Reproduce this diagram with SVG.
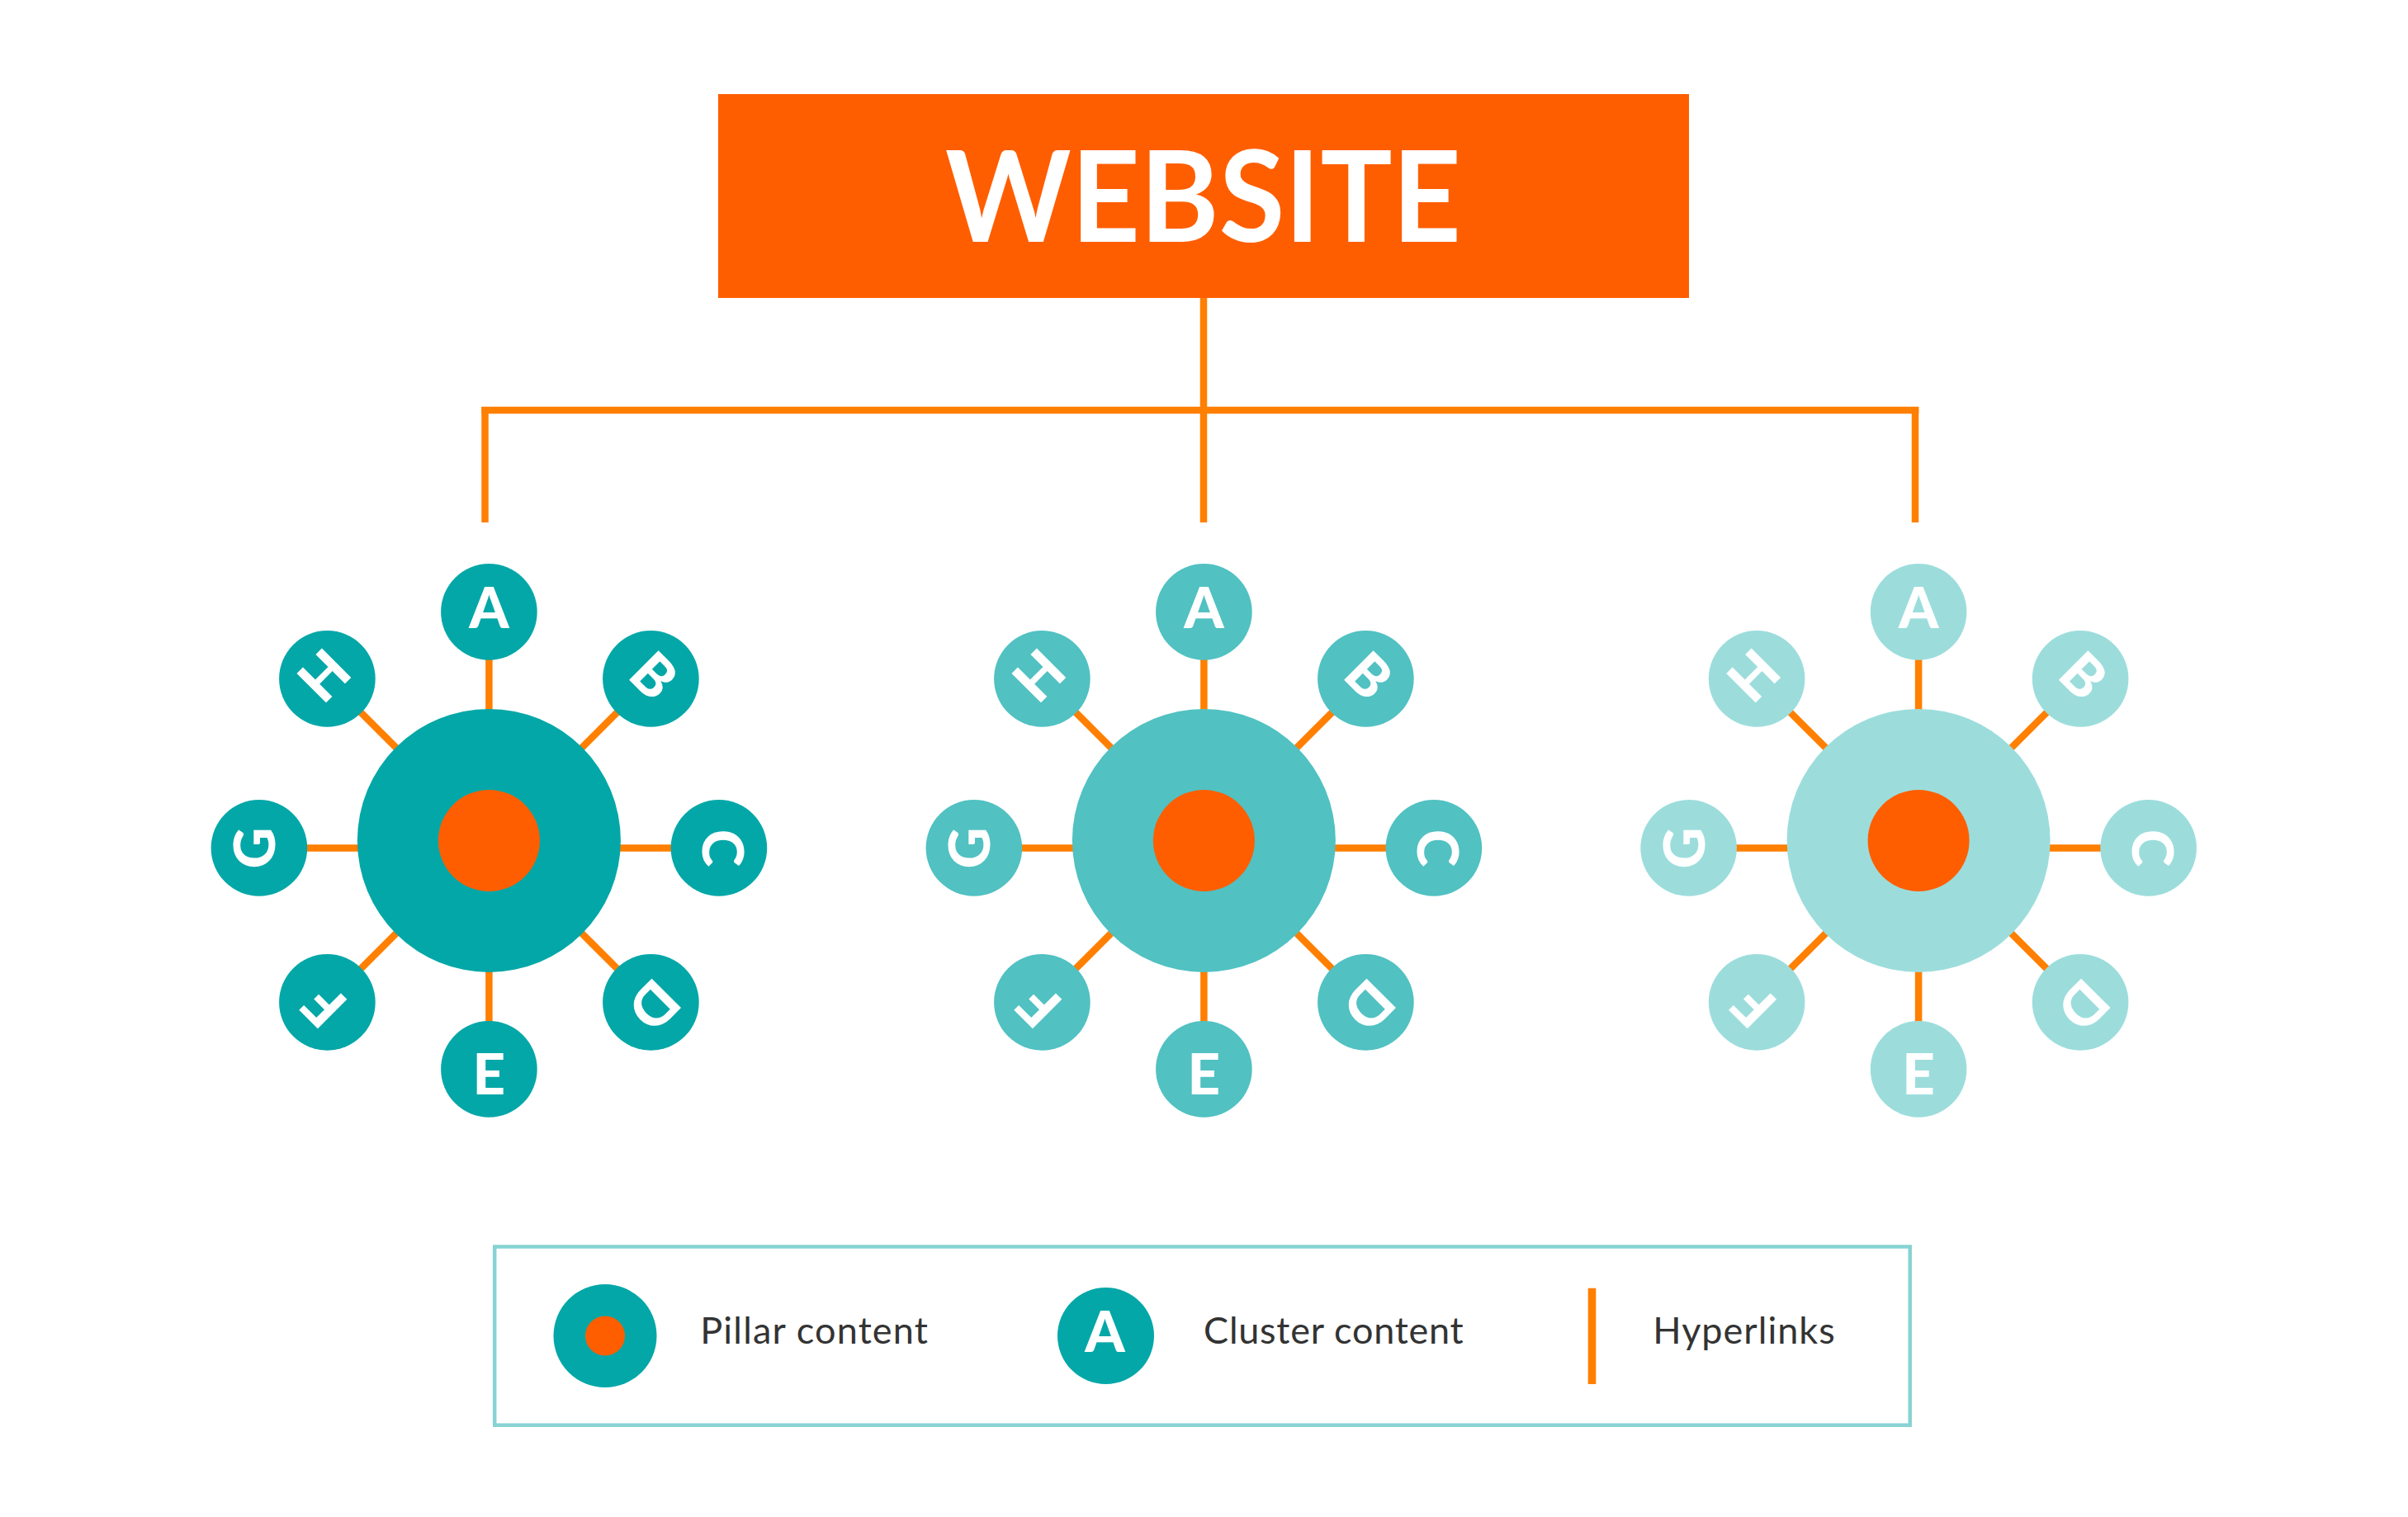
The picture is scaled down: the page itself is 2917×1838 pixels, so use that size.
<svg xmlns="http://www.w3.org/2000/svg" width="2917" height="1838" viewBox="0 0 2917 1838">
<style>
.bg{fill:#ffffff}
.hl{stroke:#FF7F00;stroke-width:8.5;fill:none;stroke-linecap:butt}
.sat1{fill:#04A7A8}
.sat2{fill:#51C1C2}
.sat3{fill:#9CDDDC}
.core{fill:#FF5E00}
.let{font-family:Lato,"Open Sans","DejaVu Sans",sans-serif;font-weight:900;font-size:69px;fill:#ffffff;text-anchor:middle}
.lg{font-family:Lato,"Open Sans",sans-serif;font-weight:400;font-size:45px;fill:#333333}
</style>
<defs>
<g id="ring">
<g transform="translate(0,-277)"><text class="let" y="19.5">A</text></g>
<g transform="translate(196,-196) rotate(45)"><text class="let" y="19.5">B</text></g>
<g transform="translate(278.5,9) rotate(90)"><text class="let" y="19.5">C</text></g>
<g transform="translate(196,196) rotate(135)"><text class="let" y="19.5">D</text></g>
<g transform="translate(0,277)"><text class="let" y="30.5">E</text></g>
<g transform="translate(-196,196) rotate(225)"><text class="let" y="19.5">F</text></g>
<g transform="translate(-278.5,9) rotate(270)"><text class="let" y="19.5">G</text></g>
<g transform="translate(-196,-196) rotate(315)"><text class="let" y="19.5">H</text></g>
</g>
<g id="spokes">
<line x1="0" y1="0" x2="0" y2="-277"/>
<line x1="0" y1="0" x2="196" y2="-196"/>
<line x1="0" y1="9" x2="278.5" y2="9"/>
<line x1="0" y1="0" x2="196" y2="196"/>
<line x1="0" y1="0" x2="0" y2="277"/>
<line x1="0" y1="0" x2="-196" y2="196"/>
<line x1="0" y1="9" x2="-278.5" y2="9"/>
<line x1="0" y1="0" x2="-196" y2="-196"/>
</g>
<g id="sats">
<circle cx="0" cy="-277" r="58.3"/>
<circle cx="196" cy="-196" r="58.3"/>
<circle cx="278.5" cy="9" r="58.3"/>
<circle cx="196" cy="196" r="58.3"/>
<circle cx="0" cy="277" r="58.3"/>
<circle cx="-196" cy="196" r="58.3"/>
<circle cx="-278.5" cy="9" r="58.3"/>
<circle cx="-196" cy="-196" r="58.3"/>
</g>
</defs>
<rect class="bg" x="0" y="0" width="2917" height="1838"/>

<g id="connectors">
<line class="hl" x1="1458" y1="360" x2="1458" y2="633"/>
<line class="hl" x1="583.3" y1="497" x2="2324.3" y2="497"/>
<line class="hl" x1="587.5" y1="493" x2="587.5" y2="633"/>
<line class="hl" x1="2320" y1="493" x2="2320" y2="633"/>
<use href="#spokes" class="hl" transform="translate(592.4,1018.4)"/>
<use href="#spokes" class="hl" transform="translate(1458.4,1018.4)"/>
<use href="#spokes" class="hl" transform="translate(2324.1,1018.4)"/>
</g>

<g id="website">
<rect x="870" y="114" width="1176" height="247" fill="#FF5E00"/>
<text x="1457.5" y="293" font-family="Lato,'Open Sans',sans-serif" font-weight="700" font-size="153.5" fill="#ffffff" text-anchor="middle" textLength="625" lengthAdjust="spacingAndGlyphs">WEBSITE</text>
</g>

<g id="cluster1" transform="translate(592.4,1018.4)">
<use href="#sats" class="sat1"/>
<circle class="sat1" cx="0" cy="0" r="159.5"/>
<circle class="core" cx="0" cy="0" r="61.5"/>
<use href="#ring"/>
</g>

<g id="cluster2" transform="translate(1458.4,1018.4)">
<use href="#sats" class="sat2"/>
<circle class="sat2" cx="0" cy="0" r="159.5"/>
<circle class="core" cx="0" cy="0" r="61.5"/>
<use href="#ring"/>
</g>

<g id="cluster3" transform="translate(2324.1,1018.4)">
<use href="#sats" class="sat3"/>
<circle class="sat3" cx="0" cy="0" r="159.5"/>
<circle class="core" cx="0" cy="0" r="61.5"/>
<use href="#ring"/>
</g>

<g id="legend">
<rect x="599.2" y="1510.5" width="1714.5" height="216.2" fill="none" stroke="#87D3D3" stroke-width="4.5"/>
<g id="legend-pillar">
<circle class="sat1" cx="733" cy="1618.5" r="62.5"/>
<circle class="core" cx="733" cy="1618.5" r="24"/>
<text class="lg" x="848.3" y="1628.3" textLength="275.6" lengthAdjust="spacing">Pillar content</text>
</g>
<g id="legend-cluster">
<circle class="sat1" cx="1339.5" cy="1618.5" r="58.5"/>
<text class="let" x="1338.5" y="1637.7">A</text>
<text class="lg" x="1458.1" y="1627.7" textLength="314.6" lengthAdjust="spacing">Cluster content</text>
</g>
<g id="legend-hyperlinks">
<line x1="1928.5" y1="1560.7" x2="1928.5" y2="1677" stroke="#FF7F00" stroke-width="9.6"/>
<text class="lg" x="2002.3" y="1628.3" textLength="220.4" lengthAdjust="spacing">Hyperlinks</text>
</g>
</g>
</svg>
